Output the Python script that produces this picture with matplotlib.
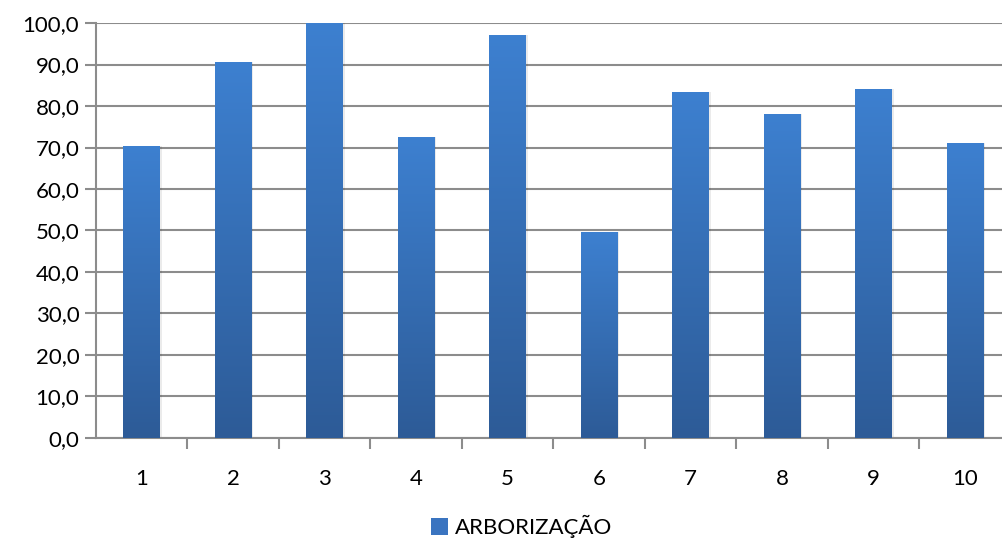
import matplotlib
matplotlib.use('Agg')
import matplotlib.pyplot as plt
import numpy as np
from matplotlib.colors import LinearSegmentedColormap
from matplotlib.patches import Patch

# Data
categorias = ['1', '2', '3', '4', '5', '6', '7', '8', '9', '10']
valores = [70.4, 90.6, 100.0, 72.5, 97.1, 49.6, 83.4, 78.1, 84.1, 71.1]
serie = 'ARBORIZAÇÃO'

plt.rcParams['font.family'] = ['Lato', 'DejaVu Sans']

top_color = '#3d80d0'
bottom_color = '#2d5b97'
grad = LinearSegmentedColormap.from_list('grad', [bottom_color, top_color])

fig = plt.figure(figsize=(10.03, 5.40), dpi=100)
ax = fig.add_axes([0.0957, 0.1889, 0.912, 0.7685])

x = np.arange(len(categorias))
bars = ax.bar(x, valores, width=0.40, color='none', edgecolor='none', zorder=3)

# gradient fill per bar
g = np.linspace(0, 1, 256).reshape(-1, 1)
for b in bars:
    x0, y0 = b.get_x(), b.get_y()
    w, h = b.get_width(), b.get_height()
    # soft shadow
    sh = plt.Rectangle((x0 + 0.02, y0), w, h, facecolor='#000000', alpha=0.08,
                       edgecolor='none', zorder=2)
    ax.add_patch(sh)
    im = ax.imshow(g, extent=[x0, x0 + w, y0, y0 + h], origin='lower',
                   cmap=grad, aspect='auto', zorder=3)
    im.set_clip_path(b)

ax.set_xlim(-0.5, 9.5)
ax.set_ylim(0, 100)
ax.set_yticks(np.arange(0, 101, 10))
ax.set_yticklabels([f'{v:.1f}'.replace('.', ',') for v in np.arange(0, 101, 10)])
ax.set_xticks(x)
ax.set_xticklabels(categorias)
ax.set_xticks(np.arange(0.5, 9.5, 1.0), minor=True)

ax.grid(axis='y', color='#8c8c8c', linewidth=1.5, zorder=1)
ax.set_axisbelow(True)

for s in ['top', 'right']:
    ax.spines[s].set_visible(False)
ax.spines['left'].set_color('#8c8c8c')
ax.spines['bottom'].set_color('#8c8c8c')
ax.spines['left'].set_linewidth(1.5)
ax.spines['bottom'].set_linewidth(1.5)

ax.tick_params(axis='y', length=8, width=1.5, color='#8c8c8c', labelsize=16, pad=4)
ax.tick_params(axis='x', which='major', length=0, labelsize=16, pad=22)
ax.tick_params(axis='x', which='minor', length=8, width=1.5, color='#8c8c8c')

fig.legend(handles=[Patch(facecolor='#3a74c0', edgecolor='none', label=serie)],
           loc='center', bbox_to_anchor=(0.52, 0.025), frameon=False,
           fontsize=16, handlelength=0.8, handleheight=0.8, handletextpad=0.3)

plt.savefig('out.png', dpi=100)
